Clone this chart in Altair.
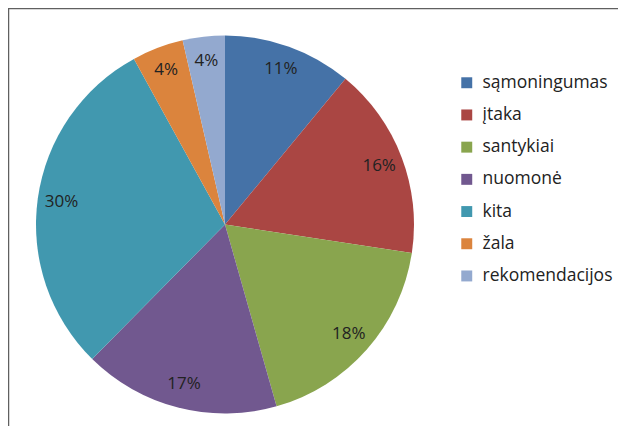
import altair as alt
import pandas as pd

categories = ["sąmoningumas", "įtaka", "santykiai", "nuomonė", "kita", "žala", "rekomendacijos"]
values = [11.0, 16.4, 18.2, 16.8, 29.6, 4.4, 3.6]
labels = ["11%", "16%", "18%", "17%", "30%", "4%", "4%"]
colors = ["#4572A7", "#AA4643", "#89A54E", "#71588F", "#4198AF", "#DB843D", "#93A9CF"]

df = pd.DataFrame({"cat": categories, "val": values, "lab": labels, "idx": list(range(len(categories)))})

W, H = 610, 418
CX, CY = 217, 216.5

base = alt.Chart(df).encode(
    theta=alt.Theta("val:Q", stack=True),
    order=alt.Order("idx:Q"),
)

arcs = base.mark_arc(radius=189, stroke=None).encode(
    x=alt.value(CX), y=alt.value(CY),
    color=alt.Color("cat:N", scale=alt.Scale(domain=categories, range=colors),
                    legend=alt.Legend(title=None, orient="none", legendX=450, legendY=66,
                                      symbolType="square", symbolSize=120, symbolStrokeWidth=0,
                                      labelFont="Open Sans", labelFontSize=17.5, labelColor="#222222",
                                      rowPadding=13.2, labelOffset=7, labelLimit=300)),
)

texts = base.mark_text(radius=165, font="Open Sans", fontSize=17, color="#222222").encode(
    x=alt.value(CX), y=alt.value(CY),
    text="lab:N",
)

frame_df = pd.DataFrame({"a": [0]})
top = alt.Chart(frame_df).mark_rule(color="#606060", strokeWidth=1.5).encode(
    x=alt.value(0), x2=alt.value(W), y=alt.value(0.5))
left = alt.Chart(frame_df).mark_rule(color="#606060", strokeWidth=1.5).encode(
    x=alt.value(0.5), y=alt.value(0), y2=alt.value(H))

chart = alt.layer(arcs, texts, top, left).properties(
    width=W, height=H, autosize=alt.AutoSizeParams(type="none"), padding=0
).configure_view(stroke=None)

chart.save("out.html", embed_options={"renderer": "svg", "actions": False})
